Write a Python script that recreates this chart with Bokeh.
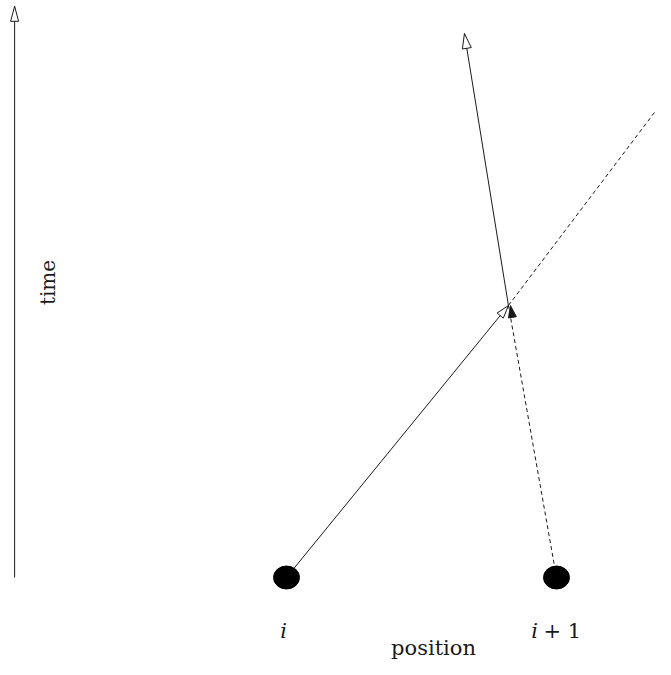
import numpy as np
from bokeh.plotting import figure
from bokeh.models import Range1d
from bokeh.core.properties import value
from bokeh.embed import file_html
from bokeh.resources import INLINE

# ---- data (position x, time t) ----
particle_labels = ["i", "i+1"]
particle_x = [0.0, 1.0]
particle_t = [0.0, 0.0]
collision_x = 0.822
collision_t = 1.0
after_solid_end = (0.659, 2.0)     # particle i after collision
after_dashed_end = (1.444, 1.816)  # particle i+1 after collision
time_axis_x = -1.007
time_axis_t = [0.0, 2.10]
x_label = "position"
y_label = "time"

# ---- layout ----
W, H = 655, 659
SX, SY = 270.0, 272.0  # px per unit
xs = -286.0 / SX
ys = -(H - 577.0) / SY
p = figure(width=W, height=H, output_backend="svg", toolbar_location=None,
           x_range=Range1d(xs, xs + W / SX), y_range=Range1d(ys, ys + H / SY),
           min_border=0, outline_line_color=None)
p.axis.visible = False
p.grid.visible = False
p.background_fill_color = "white"
p.border_fill_color = "white"

INK = "#1a1a1a"
FONT = "DejaVu Serif"


def head(tip_x, tip_t, from_x, from_t, length=14, width=8):
    dX = (tip_x - from_x) * SX
    dY = (tip_t - from_t) * SY
    n = np.hypot(dX, dY)
    ux, uy = dX / n, dY / n
    bx = tip_x * SX - ux * length
    by = tip_t * SY - uy * length
    nx, ny = -uy, ux
    xsr = [tip_x, (bx + nx * width / 2) / SX, (bx - nx * width / 2) / SX]
    ysr = [tip_t, (by + ny * width / 2) / SY, (by - ny * width / 2) / SY]
    return xsr, ysr

# time axis
p.line([time_axis_x, time_axis_x], time_axis_t, line_color=INK, line_width=1)
hx, hy = head(time_axis_x, time_axis_t[1], time_axis_x, time_axis_t[0], 15, 8)
p.patch(hx, hy, fill_color="white", line_color=INK, line_width=1)

# particle i: solid before collision
p.line([particle_x[0], collision_x], [particle_t[0], collision_t], line_color=INK, line_width=1)
# particle i+1: dashed before collision
p.line([particle_x[1], collision_x], [particle_t[1], collision_t], line_color=INK, line_width=1,
       line_dash="4 3")
# after collision
p.line([collision_x, after_solid_end[0]], [collision_t, after_solid_end[1]], line_color=INK, line_width=1)
p.line([collision_x, after_dashed_end[0]], [collision_t, after_dashed_end[1]], line_color=INK,
       line_width=1, line_dash="4 3")

# heads at collision
hx, hy = head(collision_x, collision_t, particle_x[0], particle_t[0], 13, 8)
p.patch(hx, hy, fill_color="white", line_color=INK, line_width=1)
hx, hy = head(collision_x + 2 / SX, collision_t, particle_x[1], particle_t[1], 12, 8)
p.patch(hx, hy, fill_color=INK, line_color=INK, line_width=1)
# heads at ends
hx, hy = head(after_solid_end[0], after_solid_end[1], collision_x, collision_t, 15, 9)
p.patch(hx, hy, fill_color="white", line_color=INK, line_width=1)
hx, hy = head(after_dashed_end[0], after_dashed_end[1], collision_x, collision_t, 15, 9)
p.patch(hx, hy, fill_color="white", line_color=INK, line_width=1)

# particles
p.ellipse(x=particle_x, y=particle_t, width=26, height=23, width_units="screen",
          height_units="screen", fill_color="black", line_color="black")

# labels
lab_t = -53 / SY
p.text(x=[particle_x[0] - 3 / SX], y=[lab_t], text=["i"], text_font=value(FONT),
       text_font_style="italic", text_font_size="21px", text_align="center",
       text_baseline="middle", text_color=INK)
p.text(x=[particle_x[1] - 22 / SX], y=[lab_t], text=["i"], text_font=value(FONT),
       text_font_style="italic", text_font_size="21px", text_align="center",
       text_baseline="middle", text_color=INK)
p.text(x=[particle_x[1] - 13 / SX], y=[lab_t], text=["+ 1"], text_font=value(FONT),
       text_font_size="21px", text_align="left", text_baseline="middle", text_color=INK)
p.text(x=[(particle_x[0] + particle_x[1]) / 2 + 12 / SX], y=[-70 / SY], text=[x_label],
       text_font=value(FONT), text_font_size="21px", text_align="center",
       text_baseline="middle", text_color=INK)
p.text(x=[time_axis_x + 33 / SX], y=[295 / SY], text=[y_label], text_font=value(FONT),
       text_font_size="20px", text_align="center", text_baseline="middle",
       angle=np.pi / 2, text_color=INK)

open("out.html", "w").write(file_html(p, INLINE))
